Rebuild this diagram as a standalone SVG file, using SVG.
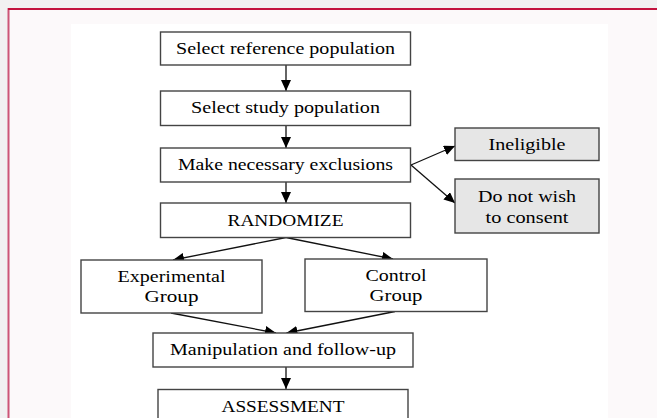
<svg xmlns="http://www.w3.org/2000/svg" width="657" height="418" viewBox="0 0 657 418">
<style>
.box{fill:#ffffff;stroke:#444444;stroke-width:1.4}
.gbox{fill:#e6e6e6;stroke:#444444;stroke-width:1.4}
.t{font-family:"Liberation Serif","Times New Roman",serif;font-size:16.5px;fill:#000000;text-anchor:middle}
.c{stroke:#111111;stroke-width:1.3;fill:none;marker-end:url(#ah)}
</style>
<defs>
<marker id="ah" markerUnits="userSpaceOnUse" markerWidth="12" markerHeight="10" refX="11" refY="5" orient="auto">
<path d="M0,0 L11,5 L0,10 Z" fill="#000000"/>
</marker>
</defs>
<rect x="0" y="0" width="657" height="418" fill="#f2f1f2"/>
<rect x="8" y="8" width="649" height="410" fill="#fcf9fa"/>
<rect x="71" y="24" width="537" height="394" fill="#ffffff"/>
<line x1="8.5" y1="8" x2="8.5" y2="418" stroke="#cc5577" stroke-width="2"/>
<line x1="8" y1="9" x2="657" y2="9" stroke="#c3143f" stroke-width="2"/>

<g id="connectors">
<line class="c" x1="286" y1="65" x2="286" y2="91"/>
<line class="c" x1="286" y1="125.5" x2="286" y2="148"/>
<line class="c" x1="286" y1="182" x2="286" y2="203"/>
<line class="c" x1="411" y1="165" x2="455" y2="146"/>
<line class="c" x1="411" y1="165" x2="455" y2="203"/>
<line class="c" x1="286" y1="237.5" x2="173" y2="260"/>
<line class="c" x1="286" y1="237.5" x2="393" y2="259"/>
<line class="c" x1="171" y1="313" x2="276" y2="333"/>
<line class="c" x1="395" y1="311.5" x2="286.5" y2="333"/>
<line class="c" x1="286" y1="367" x2="286" y2="389"/>
</g>

<g id="ref-pop">
<rect class="box" x="160.5" y="32" width="250" height="33"/>
<text class="t" x="285.5" y="53.5" textLength="219" lengthAdjust="spacingAndGlyphs">Select reference population</text>
</g>
<g id="study-pop">
<rect class="box" x="160.5" y="91" width="250" height="34.5"/>
<text class="t" x="285.5" y="113" textLength="189" lengthAdjust="spacingAndGlyphs">Select study population</text>
</g>
<g id="exclusions">
<rect class="box" x="160.5" y="148" width="250" height="34"/>
<text class="t" x="285.5" y="170" textLength="215" lengthAdjust="spacingAndGlyphs">Make necessary exclusions</text>
</g>
<g id="randomize">
<rect class="box" x="160.5" y="203" width="250" height="34.5"/>
<text class="t" x="285.5" y="225.5" textLength="116" lengthAdjust="spacingAndGlyphs">RANDOMIZE</text>
</g>
<g id="ineligible">
<rect class="gbox" x="455" y="128" width="144" height="32.5"/>
<text class="t" x="527" y="150" textLength="77" lengthAdjust="spacingAndGlyphs">Ineligible</text>
</g>
<g id="no-consent">
<rect class="gbox" x="455" y="179" width="144" height="54"/>
<text class="t" x="527" y="201.5" textLength="98" lengthAdjust="spacingAndGlyphs">Do not wish</text>
<text class="t" x="527" y="222.5" textLength="83" lengthAdjust="spacingAndGlyphs">to consent</text>
</g>
<g id="experimental">
<rect class="box" x="81" y="260" width="181" height="53"/>
<text class="t" x="171.5" y="282" textLength="108" lengthAdjust="spacingAndGlyphs">Experimental</text>
<text class="t" x="171.5" y="302" textLength="54" lengthAdjust="spacingAndGlyphs">Group</text>
</g>
<g id="control">
<rect class="box" x="305" y="259" width="182" height="52.5"/>
<text class="t" x="396" y="281" textLength="61" lengthAdjust="spacingAndGlyphs">Control</text>
<text class="t" x="396" y="301" textLength="53" lengthAdjust="spacingAndGlyphs">Group</text>
</g>
<g id="manipulation">
<rect class="box" x="153" y="333" width="260" height="34"/>
<text class="t" x="283" y="355" textLength="226" lengthAdjust="spacingAndGlyphs">Manipulation and follow-up</text>
</g>
<g id="assessment">
<rect class="box" x="158" y="389.5" width="250" height="40"/>
<text class="t" x="283" y="411.5" textLength="123" lengthAdjust="spacingAndGlyphs">ASSESSMENT</text>
</g>
</svg>
